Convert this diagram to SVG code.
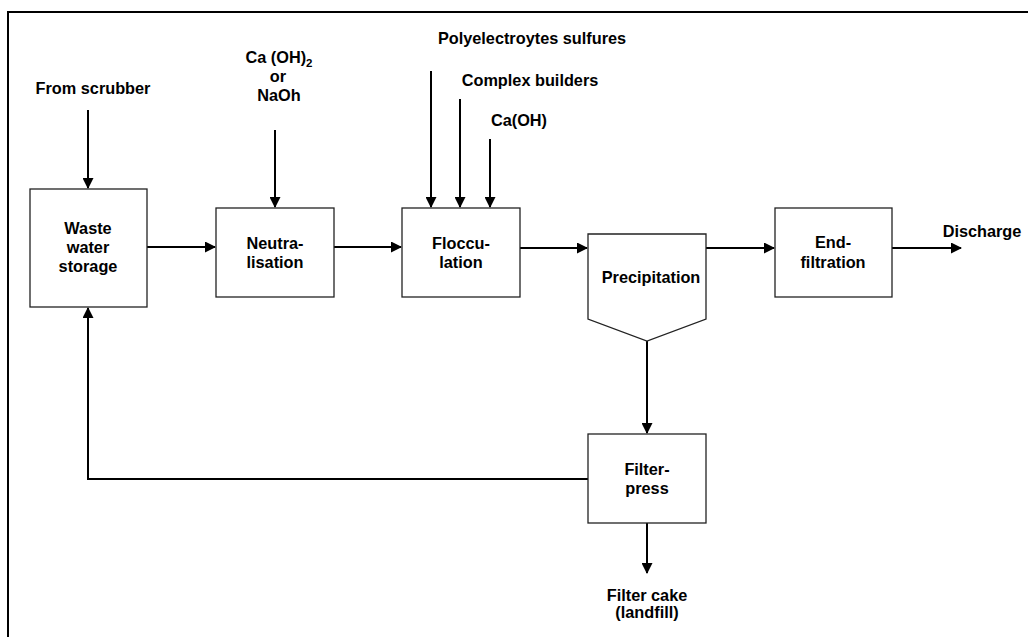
<svg xmlns="http://www.w3.org/2000/svg" width="1028" height="637" viewBox="0 0 1028 637">
<style>
.box{fill:#fff;stroke:#222;stroke-width:1.3}
.t{font-family:"Liberation Sans",Arial,sans-serif;font-weight:bold;font-size:16.3px;fill:#000;text-anchor:middle}
.c{fill:none;stroke:#000;stroke-width:2}
</style>
<defs>
<marker id="ah" markerWidth="11" markerHeight="11" refX="10" refY="5.5" orient="auto" markerUnits="userSpaceOnUse">
<path d="M0,0 L11,5.5 L0,11 Z" fill="#000"/>
</marker>
</defs>
<rect x="0" y="0" width="1028" height="637" fill="#fff"/>
<rect x="8" y="12" width="1040" height="660" fill="none" stroke="#000" stroke-width="2"/>
<g id="connectors">
<path class="c" d="M88,110 V188" marker-end="url(#ah)"/>
<path class="c" d="M275,130 V207" marker-end="url(#ah)"/>
<path class="c" d="M147,247 H215" marker-end="url(#ah)"/>
<path class="c" d="M334,247 H401" marker-end="url(#ah)"/>
<path class="c" d="M431,71 V207" marker-end="url(#ah)"/>
<path class="c" d="M460,99 V207" marker-end="url(#ah)"/>
<path class="c" d="M490,139 V207" marker-end="url(#ah)"/>
<path class="c" d="M520,248 H587" marker-end="url(#ah)"/>
<path class="c" d="M706,248 H774" marker-end="url(#ah)"/>
<path class="c" d="M892,248 H961" marker-end="url(#ah)"/>
<path class="c" d="M647,341 V433" marker-end="url(#ah)"/>
<path class="c" d="M647,523 V573" marker-end="url(#ah)"/>
<path class="c" d="M588,479 H88 V308" marker-end="url(#ah)"/>
</g>
<g id="from-scrubber"><text class="t" x="93" y="94">From scrubber</text></g>
<g id="caoh2"><text class="t" x="279" y="63">Ca (OH)<tspan font-size="11.5" dy="4">2</tspan></text>
<text class="t" x="278" y="82">or</text>
<text class="t" x="279" y="101">NaOh</text></g>
<g id="poly"><text class="t" x="532" y="44">Polyelectroytes sulfures</text></g>
<g id="complex"><text class="t" x="530" y="86">Complex builders</text></g>
<g id="caoh"><text class="t" x="519" y="126">Ca(OH)</text></g>
<g id="storage"><rect class="box" x="30" y="189" width="117" height="118"/>
<text class="t" x="88" y="234">Waste</text><text class="t" x="88" y="253">water</text><text class="t" x="88" y="272">storage</text></g>
<g id="neutralisation"><rect class="box" x="216" y="208" width="118" height="89"/>
<text class="t" x="275" y="249">Neutra-</text><text class="t" x="275" y="268">lisation</text></g>
<g id="flocculation"><rect class="box" x="402" y="208" width="118" height="89"/>
<text class="t" x="461" y="249">Floccu-</text><text class="t" x="461" y="268">lation</text></g>
<g id="precipitation"><path class="box" d="M588,234 H706 V319 L647,341 L588,319 Z"/>
<text class="t" x="651" y="283">Precipitation</text></g>
<g id="end-filtration"><rect class="box" x="775" y="208" width="117" height="89"/>
<text class="t" x="833" y="248">End-</text><text class="t" x="833" y="268">filtration</text></g>
<g id="discharge"><text class="t" x="982" y="237">Discharge</text></g>
<g id="filter-press"><rect class="box" x="588" y="434" width="118" height="89"/>
<text class="t" x="647" y="475">Filter-</text><text class="t" x="647" y="494">press</text></g>
<g id="filter-cake"><text class="t" x="647" y="601">Filter cake</text><text class="t" x="647" y="618">(landfill)</text></g>
</svg>
